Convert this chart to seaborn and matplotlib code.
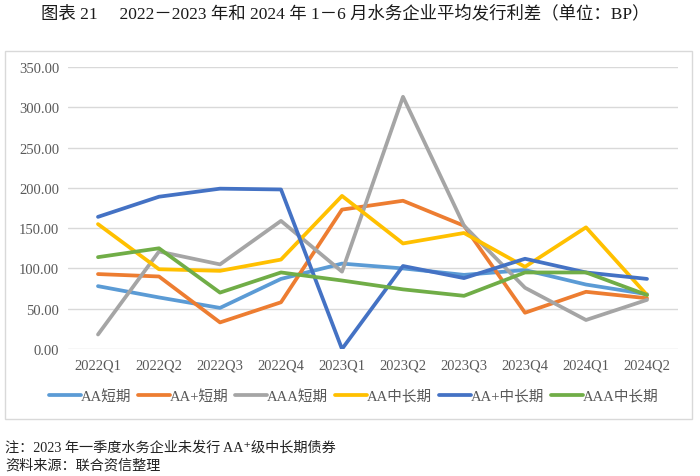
import pandas as pd
import matplotlib.pyplot as plt
import seaborn as sns
from matplotlib.patches import Rectangle

sns.set_style("white")
plt.rcParams["font.family"] = ["Liberation Serif", "Noto Sans CJK SC", "DejaVu Sans"]

# values (unit: BP)
quarters = ["2022Q1", "2022Q2", "2022Q3", "2022Q4", "2023Q1",
            "2023Q2", "2023Q3", "2023Q4", "2024Q1", "2024Q2"]
aa_short = [78, 64, 51, 87, 106, 100, 92, 98, 80, 68]
aap_short = [93, 90, 33, 58, 173, 184, 153, 45, 71, 63]
aaa_short = [18, 121, 105, 159, 96, 313, 153, 76, 36, 61]
aa_long = [155, 99, 97, 111, 190, 131, 144, 102, 151, 67]
aap_long = [164, 189, 199, 198, 0, 103, 88, 112, 95, 87]
aaa_long = [114, 125, 70, 95, 85, 74, 66, 95, 95, 67]

series_names = ["AA短期", "AA+短期", "AAA短期", "AA中长期", "AA+中长期", "AAA中长期"]
series_vals = [aa_short, aap_short, aaa_short, aa_long, aap_long, aaa_long]
colors = ["#5B9BD5", "#ED7D31", "#A5A5A5", "#FFC000", "#4472C4", "#70AD47"]

rows = []
for name, vals in zip(series_names, series_vals):
    for i, v in enumerate(vals):
        rows.append({"idx": i, "value": v, "series": name})
df = pd.DataFrame(rows)

W, H = 700, 477
fig = plt.figure(figsize=(W / 100, H / 100), dpi=100)

# light grey frame around the chart area
fig.patches.append(Rectangle((5 / W, 1 - 420 / H), (692 - 5) / W, (420 - 52) / H,
                             transform=fig.transFigure, fill=False,
                             edgecolor="#D9D9D9", linewidth=1))

ax = fig.add_axes([67.5 / W, 1 - 350 / H, (677.5 - 67.5) / W, (350 - 68) / H])
sns.lineplot(data=df, x="idx", y="value", hue="series", hue_order=series_names,
             palette=colors, linewidth=2.7, sort=False, ax=ax, legend=False)

ax.set_xlim(-0.5, len(quarters) - 0.5)
ax.set_ylim(0, 350)
ax.set_xticks(range(len(quarters)))
ax.set_xticklabels(quarters)
ax.set_yticks(range(0, 351, 50))
ax.set_yticklabels([f"{v:.2f}" for v in range(0, 351, 50)])
ax.tick_params(length=0, labelsize=10.5, labelcolor="#595959")
ax.tick_params(axis="x", pad=7)
ax.tick_params(axis="y", pad=6)
ax.grid(axis="y", color="#D9D9D9", linewidth=1)
ax.set_axisbelow(True)
for s in ax.spines.values():
    s.set_visible(False)
ax.set_xlabel("")
ax.set_ylabel("")

handles = [plt.Line2D([], [], color=c, linewidth=2.7) for c in colors]
fig.legend(handles, series_names, loc="center", bbox_to_anchor=(353.5 / W, 1 - 397 / H),
           ncol=6, frameon=False, fontsize=10.5, handlelength=2.2,
           handletextpad=0.0, columnspacing=0.45, labelcolor="#595959",
           borderpad=0, borderaxespad=0)

fig.text(345 / W, 1 - 14 / H,
         "图表 21     2022－2023 年和 2024 年 1－6 月水务企业平均发行利差（单位：BP）",
         ha="center", va="center", fontsize=12.5, color="#1a1a1a")
fig.text(5 / W, 1 - 448 / H, "注：2023 年一季度水务企业未发行 AA⁺级中长期债券",
         ha="left", va="center", fontsize=10.2, color="#222222")
fig.text(5 / W, 1 - 466 / H, "资料来源：联合资信整理",
         ha="left", va="center", fontsize=10.2, color="#222222")

fig.savefig("out.png", dpi=100)
